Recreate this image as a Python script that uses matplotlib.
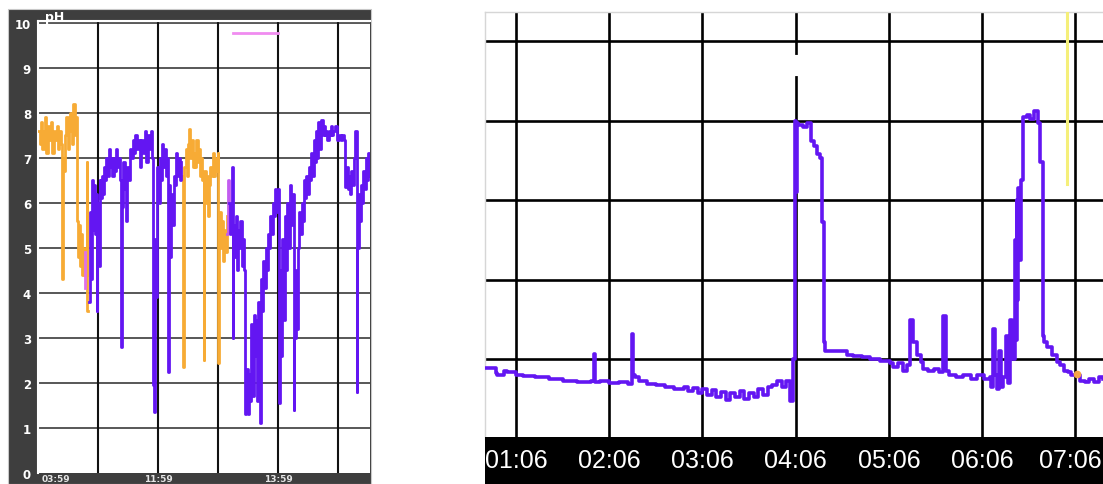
import matplotlib
matplotlib.use("Agg")
import matplotlib.pyplot as plt
from matplotlib.patches import Rectangle

# ---------------- LEFT PANEL DATA (x in grid cells, pH) ----------------
left_ticks_y = list(range(11))
left_xtick_pos = [0.3, 2.0, 4.0]
left_xtick_labels = ["03:59", "11:59", "13:59"]

orange1_x = [0.00,0.03,0.05,0.07,0.10,0.12,0.14,0.17,0.19,0.21,0.24,0.26,0.28,0.31,0.33,0.35,0.38,0.40,0.41,0.43,
             0.45,0.47,0.50,0.52,0.54,0.57,0.59,0.61,0.63,0.65,0.66,0.68,0.70,0.72,0.74,0.76,0.78,0.81,0.82,0.83]
orange1_y = [7.6,7.3,7.8,7.2,7.6,7.9,7.1,7.7,7.4,7.8,7.1,7.6,7.4,7.7,7.2,7.6,7.3,4.3,7.0,6.7,
             7.5,7.9,7.2,7.6,8.0,7.3,8.2,7.5,7.9,5.6,4.8,5.5,4.6,5.3,4.4,5.0,4.4,6.9,3.6,3.6]

orange2_x = [2.39,2.41,2.42,2.44,2.46,2.48,2.50,2.52,2.54,2.56,2.58,2.60,2.62,2.64,2.66,2.68,2.70,2.72,2.74,2.76,
             2.77,2.79,2.81,2.83,2.85,2.87,2.89,2.91,2.93,2.95,2.97,2.99,3.00,3.02,3.04,3.06,3.08,3.10,3.12,3.14]
orange2_y = [6.6,5.8,2.35,6.8,7.2,6.6,7.3,7.65,7.0,7.4,6.8,7.1,6.8,7.4,6.9,7.2,6.6,7.0,6.5,2.5,
             6.7,6.0,6.6,5.7,6.4,6.8,6.6,7.1,6.6,7.0,6.7,7.1,2.45,5.8,5.0,5.6,4.7,5.4,4.9,5.7]

pink_x = [0.775, 0.785, 3.15, 3.165, 3.18]
pink_y = [4.9, 4.1, 5.3, 6.5, 5.6]

purple1_x = [0.855,0.865,0.88,0.895,0.91,0.93,0.95,0.97,0.98,0.99,1.01,1.03,1.04,1.06,1.08,1.10,1.12,1.14,1.16,1.18,
             1.20,1.22,1.24,1.26,1.28,1.30,1.32,1.34,1.37,1.39,1.40,1.42,1.45,1.47,1.49,1.51,1.53,1.55,1.58,1.60,
             1.62,1.65,1.67,1.70,1.72,1.75,1.78,1.80,1.83,1.86,1.88,1.90,1.92,1.93,1.95,1.97,1.99,2.01,2.03,2.05,
             2.07,2.09,2.11,2.13,2.15,2.17,2.18,2.20,2.22,2.24,2.26,2.28,2.30,2.32,2.34,2.36,2.38]
purple1_y = [3.8,5.8,4.3,6.5,5.4,6.4,5.3,6.2,3.6,6.0,4.6,6.5,6.1,6.6,6.2,6.8,6.5,7.0,6.6,7.2,
             6.8,7.0,6.6,7.0,6.7,7.2,6.8,7.0,6.5,2.8,5.9,6.9,6.3,5.6,6.8,6.5,7.2,7.0,7.4,7.1,
             7.5,7.2,7.4,6.8,7.4,7.1,7.6,6.9,7.5,7.2,7.6,7.0,1.95,1.35,5.2,3.9,6.8,6.0,7.0,6.5,
             7.3,6.8,7.2,6.6,7.0,2.25,6.4,4.8,6.2,5.5,6.6,6.4,7.1,6.6,7.0,6.5,6.9]

purple2_x = [3.18,3.20,3.22,3.23,3.24,3.25,3.27,3.29,3.31,3.33,3.35,3.37,3.39,3.41,3.43,3.45,3.47,3.49,3.51,3.53,
             3.55,3.57,3.59,3.61,3.63,3.65,3.67,3.69,3.71,3.73,3.75,3.77,3.79,3.81,3.83,3.85,3.87,3.89,3.91,3.93,
             3.95,3.97,4.00,4.01,4.03,4.05,4.07,4.09,4.11,4.13,4.15,4.17,4.19,4.21,4.23,4.26,4.27,4.29,4.31,4.33,
             4.35,4.37,4.39,4.41,4.43,4.45,4.47,4.49,4.51,4.53,4.55,4.57,4.59,4.61,4.63,4.65,4.67,4.69,4.72,4.74,
             4.76,4.78,4.80,4.82,4.84,4.86,4.88,4.90,4.92,4.95,4.98,5.01,5.04,5.07,5.10,5.12,5.14,5.16,5.18,5.20,
             5.22,5.24,5.26,5.28,5.31,5.32,5.34,5.36,5.38,5.40,5.42,5.44,5.46,5.48,5.50,5.53]
purple2_y = [6.0,5.3,5.9,6.8,3.0,5.5,4.8,5.7,4.5,5.4,5.0,5.6,4.6,5.2,4.5,1.3,2.3,1.3,2.2,1.6,
             3.3,1.7,3.5,2.6,3.4,1.6,3.8,1.1,4.3,3.6,4.7,4.1,5.0,4.5,5.3,5.0,5.7,5.3,6.0,5.7,
             6.3,5.8,6.3,1.55,4.5,2.6,5.2,3.4,5.7,4.5,6.0,5.0,6.4,5.5,6.2,1.4,3.0,4.5,3.2,5.0,
             5.8,5.3,6.0,5.6,6.5,6.1,6.6,6.2,6.8,6.5,7.1,6.6,7.4,6.9,7.6,7.0,7.8,7.2,7.85,7.5,
             7.7,7.5,7.6,7.4,7.6,7.5,7.7,7.5,7.6,7.7,7.4,7.5,7.4,7.5,7.4,6.35,6.8,6.3,6.6,6.2,
             6.7,6.4,7.0,7.6,1.8,5.0,6.2,5.6,6.4,6.0,6.7,6.3,7.0,6.5,7.1,6.6]

legend_bar_x = [3.25, 4.0]
legend_bar_y = [9.78, 9.78]

# ---------------- RIGHT PANEL DATA (x in hours, y in grid units) ----------------
right_hours = [1.1, 2.1, 3.1, 4.1, 5.1, 6.1, 7.1]
right_labels = ["01:06", "02:06", "03:06", "04:06", "05:06", "06:06", "07:06"]
right_hgrid = [2, 4, 6, 8, 10]

trace_x = [0.77,0.88,0.90,0.97,1.00,1.10,1.18,1.30,1.45,1.60,1.75,1.90,1.935,1.945,2.00,2.10,2.20,2.30,2.34,2.35,
           2.38,2.42,2.50,2.60,2.70,2.80,2.90,2.95,3.00,3.05,3.10,3.15,3.20,3.25,3.30,3.35,3.40,3.45,3.50,3.55,
           3.60,3.65,3.70,3.75,3.80,3.85,3.90,3.95,4.00,4.04,4.07,4.09,4.10,4.12,4.13,4.18,4.22,4.26,4.30,4.33,
           4.36,4.38,4.40,4.42,4.50,4.60,4.65,4.72,4.81,4.90,5.00,5.11,5.15,5.20,5.25,5.30,5.33,5.36,5.40,5.44,
           5.47,5.52,5.58,5.64,5.68,5.71,5.75,5.82,5.90,5.98,6.05,6.12,6.19,6.20,6.22,6.24,6.26,6.28,6.30,6.33,
           6.36,6.38,6.40,6.42,6.44,6.45,6.46,6.47,6.48,6.49,6.50,6.52,6.54,6.58,6.62,6.66,6.70,6.72,6.75,6.76,
           6.80,6.85,6.90,6.94,6.98,7.02,7.06,7.15,7.20,7.25,7.30,7.35,7.40]
trace_y = [1.78,1.65,1.62,1.70,1.68,1.62,1.58,1.56,1.50,1.46,1.44,1.46,2.14,1.42,1.45,1.40,1.42,1.38,2.64,1.60,
           1.56,1.45,1.38,1.35,1.30,1.26,1.30,1.20,1.28,1.15,1.25,1.10,1.22,1.05,1.18,0.98,1.15,1.05,1.20,1.00,
           1.15,1.05,1.25,1.10,1.30,1.35,1.45,1.30,1.45,0.95,2.00,8.00,6.20,7.95,7.90,7.85,7.95,7.50,7.36,7.15,
           7.05,5.45,2.44,2.21,2.20,2.22,2.12,2.08,2.05,2.00,1.97,1.92,1.80,1.90,1.72,1.85,3.00,2.45,2.10,1.93,
           1.76,1.70,1.75,1.68,3.09,1.70,1.62,1.55,1.62,1.52,1.60,1.50,1.55,1.30,2.76,1.60,1.25,2.20,1.30,1.55,
           2.60,1.40,3.00,2.00,2.00,5.00,2.50,6.00,3.50,6.30,4.50,6.50,8.10,8.15,8.05,8.25,7.95,6.96,2.59,2.44,
           2.30,2.10,1.93,1.85,1.72,1.68,1.62,1.45,1.42,1.50,1.44,1.55,1.50]
orange_dot = (7.12, 1.63)
yellow_x = 7.012
yellow_y = (6.41, 10.73)

# ---------------- FIGURE ----------------
W, H = 1103, 485
fig = plt.figure(figsize=(W / 100, H / 100), dpi=100)
fig.patch.set_facecolor("white")

def rect(x0, y0, x1, y1):
    return [x0 / W, 1 - y1 / H, (x1 - x0) / W, (y1 - y0) / H]

# dark frame of left chart (behind the axes)
frame = Rectangle((8 / W, 0), (371 - 8) / W, 1 - 10 / H, transform=fig.transFigure,
                  facecolor="#3e3e3e", edgecolor="#c8c8c8", lw=0.8, zorder=-5)
fig.patches.append(frame)

PURPLE = "#6316f2"
ORANGE = "#f7ab35"

# ---- left axes ----
ax1 = fig.add_axes(rect(38, 22, 370, 474))
ax1.set_zorder(1)
ax1.set_facecolor("white")
ax1.set_xlim(0, 5.53)
ax1.set_ylim(0, 10.04)
for y in left_ticks_y[1:]:
    ax1.axhline(y, color="#2a2a2a", lw=1.1, zorder=1)
for x in range(1, 6):
    ax1.axvline(x, color="#111111", lw=1.5, zorder=1)
ax1.plot(orange1_x, orange1_y, color=ORANGE, lw=2.0, drawstyle="steps-post", zorder=3)
ax1.plot(orange2_x, orange2_y, color=ORANGE, lw=2.0, drawstyle="steps-post", zorder=3)
ax1.plot(pink_x[:2], pink_y[:2], color="#e070e8", lw=2.0, drawstyle="steps-post", zorder=3)
ax1.plot(pink_x[2:], pink_y[2:], color="#c25cf0", lw=2.0, drawstyle="steps-post", zorder=3)
ax1.plot(purple1_x, purple1_y, color=PURPLE, lw=2.0, drawstyle="steps-post", zorder=4)
ax1.plot(purple2_x, purple2_y, color=PURPLE, lw=2.0, drawstyle="steps-post", zorder=4)
ax1.plot(legend_bar_x, legend_bar_y, color="#f08cf0", lw=2.0, zorder=4)
for s in ["right", "bottom"]:
    ax1.spines[s].set_visible(False)
for s in ["top", "left"]:
    ax1.spines[s].set_color("white")
    ax1.spines[s].set_linewidth(1.5)
ax1.set_yticks(left_ticks_y)
ax1.set_yticklabels([str(v) for v in left_ticks_y], color="white", fontweight="bold", fontsize=8.5)
ax1.set_xticks(left_xtick_pos)
ax1.set_xticklabels(left_xtick_labels, color="#e6e6e6", fontweight="bold", fontsize=6.5)
ax1.tick_params(axis="y", length=0, pad=5)
ax1.tick_params(axis="x", length=0, pad=1)
fig.text(45 / W, 1 - 17 / H, "pH", color="white", fontweight="bold", fontsize=9,
         ha="left", va="center", zorder=5)

# ---- right axes ----
ax2 = fig.add_axes(rect(485, 13, 1103, 440))
ax2.set_facecolor("white")
ax2.set_xlim(0.767, 7.398)
ax2.set_ylim(0, 10.73)
for y in right_hgrid:
    ax2.axhline(y, color="black", lw=1.9, zorder=1)
for x in right_hours:
    ax2.axvline(x, color="black", lw=1.9, zorder=1)
ax2.plot([4.1, 4.1], [9.17, 9.6], color="white", lw=3, zorder=2)
ax2.plot(trace_x, trace_y, color=PURPLE, lw=2.6, drawstyle="steps-post", zorder=3)
ax2.plot([orange_dot[0]], [orange_dot[1]], "o", color="#f6a448", ms=4.5, zorder=4)
ax2.plot([yellow_x, yellow_x], list(yellow_y), color="#f5ef7a", lw=2.2, zorder=4)
ax2.set_xticks([])
ax2.set_yticks([])
for s in ["right", "bottom"]:
    ax2.spines[s].set_visible(False)
for s in ["top", "left"]:
    ax2.spines[s].set_color("#d6d6d6")
    ax2.spines[s].set_linewidth(1.0)

# ---- right time band ----
ax3 = fig.add_axes(rect(485, 438, 1103, 485))
ax3.set_facecolor("black")
ax3.set_xlim(0.767, 7.398)
ax3.set_ylim(0, 1)
ax3.set_xticks([])
ax3.set_yticks([])
for s in ax3.spines.values():
    s.set_visible(False)
label_font = ["Liberation Sans Narrow", "Liberation Sans", "DejaVu Sans"]
for hx, lab in zip(right_hours[:-1], right_labels[:-1]):
    ax3.text(hx, 0.5, lab, color="white", ha="center", va="center", fontsize=18,
             family=label_font)
# last label sits at the right edge; keep it fully inside the picture
ax3.text(0.997, 0.5, right_labels[-1], color="white", ha="right", va="center", fontsize=18,
         family=label_font, transform=ax3.transAxes)

fig.savefig("out.png", dpi=100, facecolor="white")
